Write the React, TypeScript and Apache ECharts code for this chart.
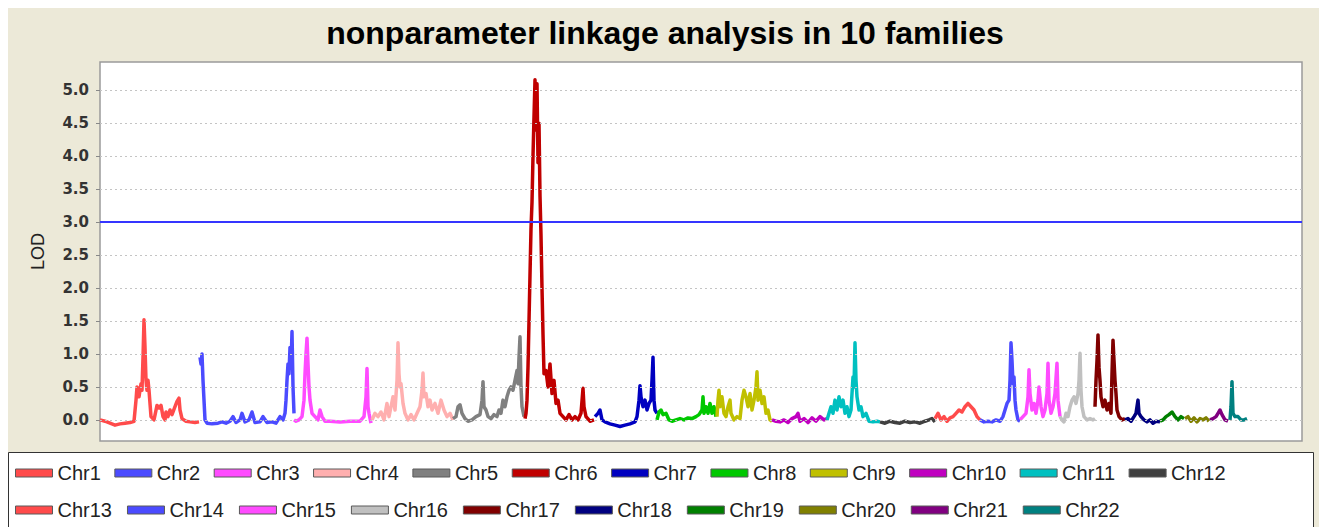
import { useEffect, useRef } from "react";
import * as echarts from "echarts";

const chrNames = [
  "Chr1", "Chr2", "Chr3", "Chr4", "Chr5", "Chr6", "Chr7", "Chr8", "Chr9", "Chr10", "Chr11",
  "Chr12", "Chr13", "Chr14", "Chr15", "Chr16", "Chr17", "Chr18", "Chr19", "Chr20", "Chr21", "Chr22",
];
const chrColors = [
  "#FF4B4B", "#4B4BFF", "#FF4BFF", "#FFAFAF", "#808080", "#C00000", "#0000C0", "#00C800", "#C0C000",
  "#C000C0", "#00C0C0", "#404040", "#FF4B4B", "#4B4BFF", "#FF4BFF", "#C0C0C0", "#800000", "#000080",
  "#008000", "#808000", "#800080", "#008080",
];
// chromosome lengths (cM)
const chrLengths = [300, 282, 234, 243, 216, 210, 186, 180, 165, 165, 159, 165, 135, 120, 120, 105, 90, 105, 75, 75, 60, 54];
const genomeMax = 3606;
const yTicks = [0, 0.5, 1, 1.5, 2, 2.5, 3, 3.5, 4, 4.5, 5];
const threshold = 3.0;
const titleText = "nonparameter linkage analysis in 10 families";

// [position within chromosome (cM), LOD]
const chr1 = [[0,0.0],[15,-0.02],[30,-0.05],[45,-0.08],[60,-0.06],[75,-0.05],[90,-0.04],[102,-0.02],[108,0.3],[111,0.5],[117,0.35],[123,0.55],[126,0.45],[129,0.95],[132,1.52],[135,1.1],[138,0.6],[141,0.45],[144,0.6],[147,0.45],[153,0.05],[162,0.0],[171,0.22],[177,0.18],[183,0.22],[189,0.05],[195,0.0],[198,0.12],[204,0.05],[210,0.15],[216,0.08],[225,0.2],[231,0.28],[237,0.33],[240,0.15],[246,0.02],[258,-0.02],[270,-0.03],[285,-0.04],[297,-0.03]];
const chr2 = [[0,0.95],[3,0.85],[6,1.0],[9,0.6],[12,0.3],[15,0.0],[21,-0.05],[36,-0.06],[54,-0.05],[66,-0.03],[78,-0.05],[90,-0.02],[99,0.05],[108,-0.04],[120,0.0],[126,0.1],[135,-0.03],[147,0.0],[156,0.12],[165,-0.04],[180,-0.03],[189,0.05],[201,-0.04],[216,-0.03],[228,-0.05],[240,0.05],[249,0.0],[255,0.1],[258,0.3],[261,0.6],[264,0.85],[267,0.7],[270,1.1],[273,0.8],[276,1.34],[279,0.5],[282,0.1]];
const chr3 = [[0,0.0],[6,-0.02],[15,0.0],[24,0.05],[30,0.3],[33,0.7],[36,1.0],[39,1.24],[42,0.85],[45,0.5],[48,0.3],[54,0.1],[63,0.05],[72,0.0],[78,0.15],[84,0.05],[93,-0.02],[108,-0.02],[138,-0.03],[168,-0.02],[198,-0.02],[210,0.05],[216,0.35],[219,0.78],[222,0.2],[225,0.1],[231,-0.05]];
const chr4 = [[0,0.0],[9,0.1],[18,0.05],[27,0.12],[36,0.0],[45,0.25],[51,0.05],[57,0.2],[63,0.35],[69,0.15],[75,0.6],[78,1.17],[81,0.7],[84,0.5],[87,0.55],[93,0.25],[99,0.1],[108,0.0],[117,0.08],[126,0.0],[135,0.1],[144,0.2],[150,0.45],[153,0.71],[156,0.35],[162,0.4],[168,0.2],[174,0.3],[180,0.15],[189,0.25],[198,0.1],[207,0.3],[216,0.15],[225,0.05],[234,0.1],[243,0.0]];
const chr5 = [[0,0.02],[9,0.05],[15,0.2],[21,0.23],[27,0.1],[36,0.02],[45,-0.02],[57,0.0],[69,0.05],[81,0.08],[87,0.3],[90,0.58],[93,0.2],[99,0.15],[105,0.05],[114,0.02],[123,0.08],[132,0.05],[138,0.15],[144,0.1],[150,0.3],[156,0.2],[162,0.35],[168,0.45],[174,0.5],[180,0.45],[186,0.6],[192,0.75],[195,0.55],[198,0.95],[201,1.26],[204,0.5],[207,0.2],[213,0.05]];
const chr6 = [[0,0.02],[3,0.1],[6,0.3],[9,0.8],[12,1.5],[15,2.2],[18,2.9],[21,3.3],[24,4.0],[27,4.6],[30,5.16],[33,4.4],[36,5.1],[39,3.9],[42,4.5],[45,3.4],[48,2.8],[51,2.0],[54,1.3],[57,0.7],[63,0.75],[69,0.5],[75,0.85],[81,0.4],[87,0.6],[93,0.25],[99,0.3],[105,0.1],[114,0.05],[123,0.0],[132,0.08],[141,0.0],[150,0.05],[159,0.0],[168,0.1],[174,0.48],[177,0.2],[183,0.05],[195,-0.02],[207,0.0]];
const chr7 = [[0,0.05],[9,0.1],[15,0.15],[21,0.0],[30,-0.03],[45,-0.06],[60,-0.08],[75,-0.1],[90,-0.08],[105,-0.06],[120,-0.03],[126,0.05],[132,0.3],[135,0.52],[138,0.35],[144,0.2],[150,0.3],[156,0.15],[162,0.25],[168,0.3],[171,0.6],[174,0.95],[177,0.3],[180,0.15],[186,0.1]];
const chr8 = [[0,0.0],[6,0.12],[12,0.15],[18,0.08],[27,0.1],[36,0.0],[45,-0.02],[57,0.0],[69,0.02],[81,0.0],[93,0.03],[105,0.02],[117,0.05],[126,0.08],[135,0.15],[138,0.35],[141,0.1],[147,0.2],[153,0.1],[159,0.25],[165,0.1],[171,0.2],[177,0.05]];
const chr9 = [[0,0.05],[3,0.3],[6,0.45],[9,0.2],[15,0.35],[21,0.1],[27,0.05],[33,0.2],[39,0.3],[42,0.1],[51,0.0],[60,0.05],[69,0.02],[75,0.3],[81,0.45],[87,0.35],[93,0.2],[99,0.4],[105,0.15],[111,0.3],[117,0.5],[120,0.73],[123,0.3],[129,0.45],[135,0.25],[141,0.35],[147,0.1],[153,0.15],[159,0.0],[165,-0.02]];
const chr10 = [[0,0.0],[12,-0.02],[24,-0.03],[36,0.0],[48,-0.04],[60,0.02],[72,0.05],[78,0.1],[84,-0.02],[96,0.02],[108,-0.04],[120,0.03],[132,-0.02],[144,0.05],[156,0.0],[165,0.02]];
const chr11 = [[0,0.0],[6,0.1],[12,0.2],[18,0.1],[24,0.3],[30,0.15],[36,0.35],[42,0.2],[48,0.3],[54,0.1],[60,0.2],[66,0.05],[72,0.15],[75,0.4],[78,0.65],[81,0.5],[84,1.17],[87,0.6],[90,0.35],[96,0.15],[102,0.2],[108,0.05],[117,0.1],[126,-0.02],[138,-0.03],[150,-0.02],[159,-0.03]];
const chr12 = [[0,-0.03],[15,-0.05],[30,-0.02],[45,-0.04],[60,-0.05],[75,-0.02],[90,-0.04],[105,-0.03],[120,-0.05],[135,-0.02],[147,0.0],[156,0.02],[165,-0.03]];
const chr13 = [[0,0.02],[9,0.1],[18,0.0],[27,0.05],[36,-0.02],[45,0.03],[54,0.05],[63,0.1],[72,0.15],[81,0.12],[90,0.2],[99,0.25],[108,0.2],[117,0.15],[126,0.05],[135,0.0]];
const chr14 = [[0,0.0],[12,-0.03],[24,-0.02],[36,-0.03],[48,0.0],[60,-0.02],[69,0.05],[75,0.15],[81,0.25],[87,0.3],[90,0.6],[93,1.17],[96,0.9],[99,0.55],[102,0.65],[105,0.3],[108,0.15],[114,0.0],[120,-0.02]];
const chr15 = [[0,0.0],[9,0.05],[18,0.1],[24,0.35],[27,0.76],[30,0.4],[36,0.15],[42,0.25],[48,0.1],[54,0.3],[57,0.5],[63,0.2],[69,0.05],[75,0.15],[81,0.4],[84,0.86],[87,0.3],[93,0.1],[99,0.2],[105,0.4],[111,0.86],[114,0.3],[120,0.05]];
const chr16 = [[0,0.05],[6,0.0],[12,-0.03],[18,0.1],[24,0.05],[30,0.2],[36,0.3],[42,0.35],[48,0.25],[54,0.4],[57,0.6],[60,1.01],[63,0.45],[66,0.2],[72,0.05],[81,0.0],[90,0.02],[99,0.0],[105,0.02]];
const chr17 = [[0,0.2],[3,0.6],[6,0.9],[9,1.29],[12,0.8],[15,0.6],[18,0.35],[24,0.2],[30,0.3],[36,0.15],[42,0.25],[48,0.1],[51,0.7],[54,1.21],[57,0.9],[60,0.6],[63,0.4],[66,0.15],[72,0.05],[81,0.0],[90,0.02]];
const chr18 = [[0,0.0],[9,0.02],[18,-0.02],[27,0.05],[33,0.1],[39,0.3],[42,0.1],[48,0.05],[57,0.0],[66,-0.03],[75,0.0],[84,-0.05],[93,-0.02],[105,-0.03]];
const chr19 = [[0,-0.02],[9,0.0],[18,0.05],[27,0.08],[36,0.12],[45,0.05],[54,0.0],[63,0.05],[72,0.02]];
const chr20 = [[0,0.02],[9,0.05],[18,-0.02],[27,0.03],[36,-0.03],[45,0.02],[54,0.0],[63,0.03],[72,-0.02]];
const chr21 = [[0,0.0],[9,0.02],[18,0.05],[24,0.1],[30,0.15],[36,0.08],[45,0.0],[54,-0.02]];
const chr22 = [[0,0.0],[3,0.2],[6,0.58],[9,0.1],[15,0.05],[24,0.05],[33,0.0],[42,0.0],[51,0.02]];

const chrData = [chr1, chr2, chr3, chr4, chr5, chr6, chr7, chr8, chr9, chr10, chr11, chr12, chr13, chr14, chr15, chr16, chr17, chr18, chr19, chr20, chr21, chr22];

const SANS = "'Liberation Sans', Arial, sans-serif";

export default function App() {
  const ref = useRef<HTMLDivElement>(null);
  useEffect(() => {
    if (!ref.current) return;
    const chart = echarts.init(ref.current, null, { renderer: "svg" });
    const starts: number[] = [];
    let acc = 0;
    chrLengths.forEach((l) => { starts.push(acc); acc += l; });

    const chrSeries = chrData.map((d, i) => ({
      name: chrNames[i],
      type: "line",
      data: d.map(([p, v]) => [starts[i] + p, v]),
      showSymbol: false,
      symbol: "none",
      color: chrColors[i],
      lineStyle: { color: chrColors[i], width: 3.5, join: "round" },
      z: 3,
      silent: true,
    }));

    const gridLines = yTicks
      .filter((v) => v !== threshold)
      .map((v) => ({ yAxis: v, lineStyle: { color: "#C4C4C4", width: 1, type: [2, 3] } }));

    const refSeries = {
      name: "__ref",
      type: "line",
      data: [[0, 0]],
      symbol: "none",
      lineStyle: { width: 0, opacity: 0 },
      z: 1,
      silent: true,
      markLine: {
        silent: true,
        symbol: ["none", "none"],
        label: { show: false },
        animation: false,
        data: [
          ...gridLines,
          { yAxis: threshold, lineStyle: { color: "#3535FF", width: 2, type: "solid" } },
        ],
      },
    };

    const legendCommon = {
      orient: "horizontal",
      padding: 0,
      left: 7,
      icon: "rect",
      itemWidth: 37,
      itemHeight: 8,
      selectedMode: false,
      itemStyle: { borderColor: "#5a5a5a", borderWidth: 1 },
      textStyle: { fontSize: 20, color: "#222", fontFamily: SANS },
    };

    chart.setOption({
      animation: false,
      backgroundColor: "#ECE9D8",
      title: {
        text: titleText,
        left: 652,
        textAlign: "center",
        top: 4,
        textStyle: { fontSize: 32, fontWeight: "bold", color: "#000", fontFamily: SANS },
      },
      graphic: [
        {
          type: "rect",
          shape: { x: 0.5, y: 444.5, width: 1305, height: 90 },
          style: { fill: "#fff", stroke: "#333", lineWidth: 1 },
          z: 0,
          silent: true,
        },
      ],
      legend: [
        { ...legendCommon, top: 455, itemGap: 13.5, data: chrNames.slice(0, 12) },
        { ...legendCommon, top: 492, itemGap: 15, data: chrNames.slice(12) },
      ],
      grid: {
        left: 92,
        top: 54,
        width: 1202,
        height: 379,
        show: true,
        backgroundColor: "#fff",
        borderColor: "#9a9a9a",
        borderWidth: 1.5,
      },
      xAxis: {
        type: "value",
        min: 0,
        max: genomeMax,
        show: false,
        splitLine: { show: false },
      },
      yAxis: {
        type: "value",
        min: -0.32,
        max: 5.43,
        name: "LOD",
        nameLocation: "middle",
        nameGap: 53,
        nameRotate: 90,
        nameTextStyle: { fontSize: 18, color: "#222", fontFamily: SANS },
        axisLine: { show: false },
        axisTick: { show: true, length: 4, lineStyle: { color: "#888" }, customValues: yTicks },
        axisLabel: {
          customValues: yTicks,
          formatter: (v: number) => v.toFixed(1),
          fontSize: 15,
          fontWeight: "bold",
          fontFamily: "'DejaVu Sans', sans-serif",
          color: "#333",
          margin: 11,
        },
        splitLine: { show: false },
      },
      series: [refSeries, ...chrSeries],
    });
    return () => chart.dispose();
  }, []);

  return (
    <div
      ref={ref}
      style={{ position: "fixed", left: 8, top: 8, width: 1311, height: 519 }}
    />
  );
}
